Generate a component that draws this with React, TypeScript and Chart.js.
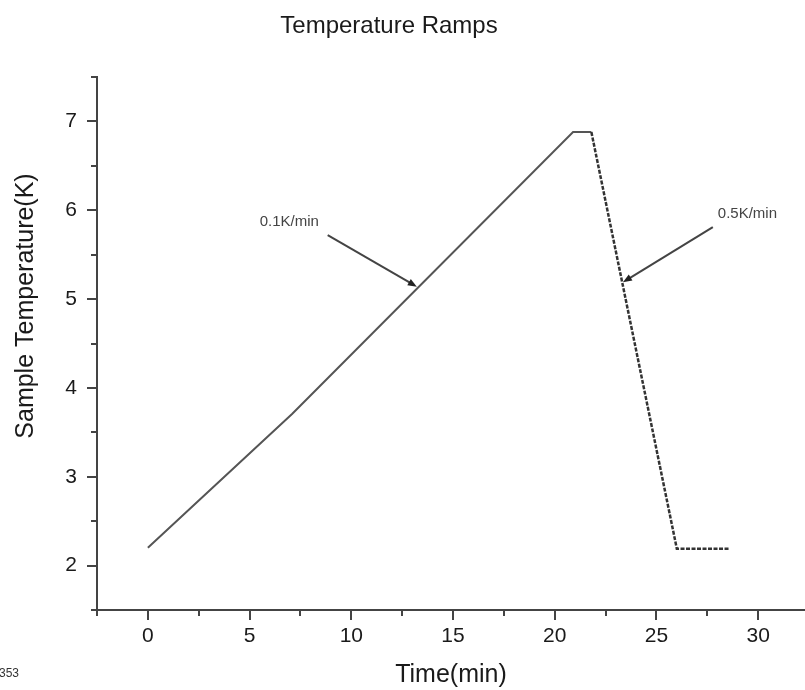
import React, { useEffect, useRef } from "react";
import { Chart, registerables } from "chart.js";

Chart.register(...registerables);

// ---- data ----
const timeMin = [0, 7.1, 20.9, 21.8, 26.0, 28.6];
const tempK = [2.2, 3.71, 6.88, 6.88, 2.19, 2.19];

const xMajorTicks = [0, 5, 10, 15, 20, 25, 30];
const xMinorTicks = [-2.5, 2.5, 7.5, 12.5, 17.5, 22.5, 27.5];
const yMajorTicks = [2, 3, 4, 5, 6, 7];
const yMinorTicks = [1.5, 2.5, 3.5, 4.5, 5.5, 6.5, 7.5];

const chartTitle = "Temperature Ramps";
const xTitle = "Time(min)";
const yTitle = "Sample Temperature(K)";
const cornerNote = "353";

const noteLabels = ["0.1K/min", "0.5K/min"];
const noteLabelX = [6.95, 29.47];
const noteLabelY = [5.87, 5.96];
const arrowFromX = [8.84, 27.77];
const arrowFromY = [5.72, 5.81];
const arrowToX = [13.22, 23.35];
const arrowToY = [5.14, 5.19];

const FONT = '"Liberation Sans", Arial, Helvetica, sans-serif';
const AXIS_COLOR = "#444";
const TEXT_COLOR = "#1a1a1a";

const decorPlugin = {
  id: "decor",
  afterDraw(chart: any) {
    const ctx = chart.ctx as CanvasRenderingContext2D;
    const xs = chart.scales.x;
    const ys = chart.scales.y;
    const area = chart.chartArea;
    ctx.save();
    // tick marks
    ctx.strokeStyle = AXIS_COLOR;
    ctx.lineWidth = 2;
    const xTick = (v: number, len: number) => {
      const px = Math.round(xs.getPixelForValue(v));
      ctx.beginPath();
      ctx.moveTo(px, area.bottom);
      ctx.lineTo(px, area.bottom + len);
      ctx.stroke();
    };
    const yTick = (v: number, len: number) => {
      const py = Math.round(ys.getPixelForValue(v));
      ctx.beginPath();
      ctx.moveTo(area.left, py);
      ctx.lineTo(area.left - len, py);
      ctx.stroke();
    };
    xMajorTicks.forEach((v) => xTick(v, 10));
    xMinorTicks.forEach((v) => xTick(v, 6));
    yMajorTicks.forEach((v) => yTick(v, 10));
    yMinorTicks.forEach((v) => yTick(v, 6));

    // annotations
    ctx.font = `15px ${FONT}`;
    ctx.textAlign = "center";
    ctx.textBaseline = "middle";
    noteLabels.forEach((t, i) => {
      ctx.fillStyle = "#444";
      ctx.fillText(t, xs.getPixelForValue(noteLabelX[i]), ys.getPixelForValue(noteLabelY[i]));
      const x1 = xs.getPixelForValue(arrowFromX[i]);
      const y1 = ys.getPixelForValue(arrowFromY[i]);
      const x2 = xs.getPixelForValue(arrowToX[i]);
      const y2 = ys.getPixelForValue(arrowToY[i]);
      const ang = Math.atan2(y2 - y1, x2 - x1);
      ctx.strokeStyle = "#444";
      ctx.lineWidth = 2;
      ctx.beginPath();
      ctx.moveTo(x1, y1);
      ctx.lineTo(x2 - 6 * Math.cos(ang), y2 - 6 * Math.sin(ang));
      ctx.stroke();
      ctx.fillStyle = "#222";
      ctx.beginPath();
      ctx.moveTo(x2, y2);
      ctx.lineTo(x2 - 9 * Math.cos(ang) + 3.5 * Math.sin(ang), y2 - 9 * Math.sin(ang) - 3.5 * Math.cos(ang));
      ctx.lineTo(x2 - 9 * Math.cos(ang) - 3.5 * Math.sin(ang), y2 - 9 * Math.sin(ang) + 3.5 * Math.cos(ang));
      ctx.closePath();
      ctx.fill();
    });

    // chart title
    ctx.fillStyle = TEXT_COLOR;
    ctx.font = `24px ${FONT}`;
    ctx.textAlign = "center";
    ctx.textBaseline = "middle";
    ctx.fillText(chartTitle, 389, 26);

    // y title
    ctx.save();
    ctx.translate(26, 306);
    ctx.rotate(-Math.PI / 2);
    ctx.font = `25px ${FONT}`;
    ctx.fillText(yTitle, 0, 0);
    ctx.restore();

    // corner note
    ctx.font = `12px ${FONT}`;
    ctx.textAlign = "right";
    ctx.fillStyle = "#333";
    ctx.fillText(cornerNote, 19, 674);
    ctx.restore();
  },
};

export default function App() {
  const ref = useRef<HTMLCanvasElement>(null);
  useEffect(() => {
    if (!ref.current) return;
    const chart = new Chart(ref.current, {
      type: "line",
      data: {
        datasets: [
          {
            data: timeMin.map((t, i) => ({ x: t, y: tempK[i] })),
            borderColor: "#555",
            borderWidth: 2,
            pointRadius: 0,
            tension: 0,
            fill: false,
            segment: {
              borderDash: (c: any) => (c.p0DataIndex >= 3 ? [4, 1.5] : undefined),
              borderColor: (c: any) => (c.p0DataIndex >= 3 ? "#333" : "#555"),
              borderWidth: (c: any) => (c.p0DataIndex >= 3 ? 2.5 : 2),
            },
          },
        ],
      },
      options: {
        responsive: false,
        animation: false,
        layout: { padding: { top: 77, left: 0, right: 0, bottom: 0 } },
        plugins: {
          legend: { display: false },
          title: { display: false },
          tooltip: { enabled: false },
        },
        scales: {
          x: {
            type: "linear",
            min: -2.5,
            max: 32.3,
            afterFit: (s: any) => {
              s.height = 80;
            },
            afterBuildTicks: (s: any) => {
              s.ticks = xMajorTicks.map((v) => ({ value: v }));
            },
            grid: { display: false, drawTicks: false },
            border: { display: true, color: AXIS_COLOR, width: 2 },
            ticks: {
              padding: 14,
              color: TEXT_COLOR,
              font: { family: FONT, size: 21 },
              maxRotation: 0,
              autoSkip: false,
              callback: (v: any) => String(v),
            },
            title: {
              display: true,
              text: xTitle,
              color: TEXT_COLOR,
              font: { family: FONT, size: 25 },
              padding: { top: 0, bottom: 0 },
            },
          },
          y: {
            type: "linear",
            min: 1.5,
            max: 7.5,
            afterFit: (s: any) => {
              s.width = 97;
            },
            afterBuildTicks: (s: any) => {
              s.ticks = yMajorTicks.map((v) => ({ value: v }));
            },
            grid: { display: false, drawTicks: false },
            border: { display: true, color: AXIS_COLOR, width: 2 },
            ticks: {
              padding: 20,
              color: TEXT_COLOR,
              font: { family: FONT, size: 21 },
              autoSkip: false,
              callback: (v: any) => String(v),
            },
            title: { display: false },
          },
        },
      },
      plugins: [decorPlugin],
    } as any);
    return () => chart.destroy();
  }, []);

  return (
    <div style={{ position: "absolute", left: 0, top: 0, width: 805, height: 690, background: "#fff" }}>
      <canvas ref={ref} width={805} height={690} style={{ display: "block" }} />
    </div>
  );
}
